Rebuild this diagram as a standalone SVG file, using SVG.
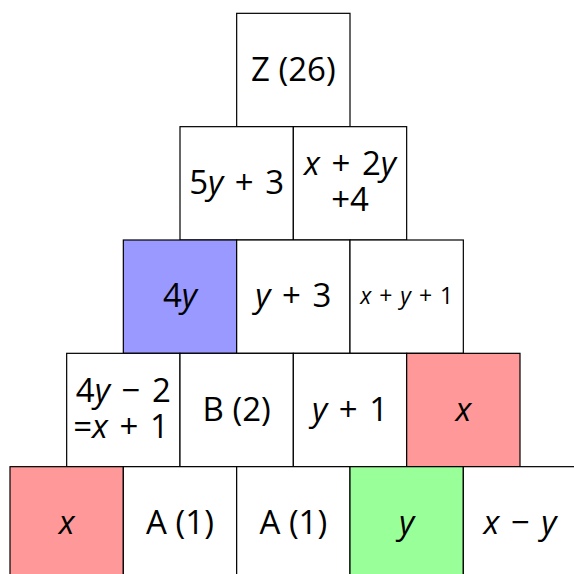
<svg xmlns="http://www.w3.org/2000/svg" width="574" height="574" viewBox="0 0 574 574">
<style>
rect{stroke:#000;stroke-width:1.2;fill:#fff}
.r{fill:#ff9999}.b{fill:#9999ff}.g{fill:#99ff99}
text{font-family:"Open Sans","DejaVu Sans",sans-serif;font-size:33px;text-anchor:middle;fill:#000}
.m{word-spacing:3px}
.i{font-style:italic}
.sm{font-size:23px;word-spacing:2px}
</style>
<rect x="0" y="0" width="574" height="574" style="fill:#fff;stroke:none"/>
<g id="n-z"><rect x="236.67" y="13.33" width="113.33" height="113.33"/><text x="293.33" y="81">Z (26)</text></g>
<g id="n-5y3"><rect x="180" y="126.67" width="113.33" height="113.33"/><text class="m" x="236.67" y="194"><tspan>5</tspan><tspan class="i">y</tspan><tspan> + 3</tspan></text></g>
<g id="n-x2y4"><rect x="293.33" y="126.67" width="113.33" height="113.33"/><text class="m" x="350" y="175"><tspan class="i">x</tspan><tspan> + 2</tspan><tspan class="i">y</tspan></text><text x="350" y="211">+4</text></g>
<g id="n-4y"><rect class="b" x="123.33" y="240" width="113.33" height="113.33"/><text x="180" y="307"><tspan>4</tspan><tspan class="i">y</tspan></text></g>
<g id="n-y3"><rect x="236.67" y="240" width="113.33" height="113.33"/><text class="m" x="293.33" y="307"><tspan class="i">y</tspan><tspan> + 3</tspan></text></g>
<g id="n-xy1"><rect x="350" y="240" width="113.33" height="113.33"/><text class="sm" x="406.67" y="304"><tspan class="i">x</tspan><tspan> + </tspan><tspan class="i">y</tspan><tspan> + 1</tspan></text></g>
<g id="n-eq"><rect x="66.67" y="353.33" width="113.33" height="113.33"/><text class="m" x="123.33" y="402"><tspan>4</tspan><tspan class="i">y</tspan><tspan> − 2</tspan></text><text class="m" x="121" y="438"><tspan>=</tspan><tspan class="i">x</tspan><tspan> + 1</tspan></text></g>
<g id="n-b"><rect x="180" y="353.33" width="113.33" height="113.33"/><text x="236.67" y="421">B (2)</text></g>
<g id="n-y1"><rect x="293.33" y="353.33" width="113.33" height="113.33"/><text class="m" x="350" y="421"><tspan class="i">y</tspan><tspan> + 1</tspan></text></g>
<g id="n-x1"><rect class="r" x="406.67" y="353.33" width="113.33" height="113.33"/><text class="i" x="463.33" y="421">x</text></g>
<g id="n-x2"><rect class="r" x="10" y="466.67" width="113.33" height="113.33"/><text class="i" x="66.67" y="534">x</text></g>
<g id="n-a1"><rect x="123.33" y="466.67" width="113.33" height="113.33"/><text x="180" y="534">A (1)</text></g>
<g id="n-a2"><rect x="236.67" y="466.67" width="113.33" height="113.33"/><text x="293.33" y="534">A (1)</text></g>
<g id="n-y"><rect class="g" x="350" y="466.67" width="113.33" height="113.33"/><text class="i" x="406.67" y="534">y</text></g>
<g id="n-xmy"><rect x="463.33" y="466.67" width="113.33" height="113.33"/><text class="m" x="520" y="534"><tspan class="i">x</tspan><tspan> − </tspan><tspan class="i">y</tspan></text></g>
</svg>
